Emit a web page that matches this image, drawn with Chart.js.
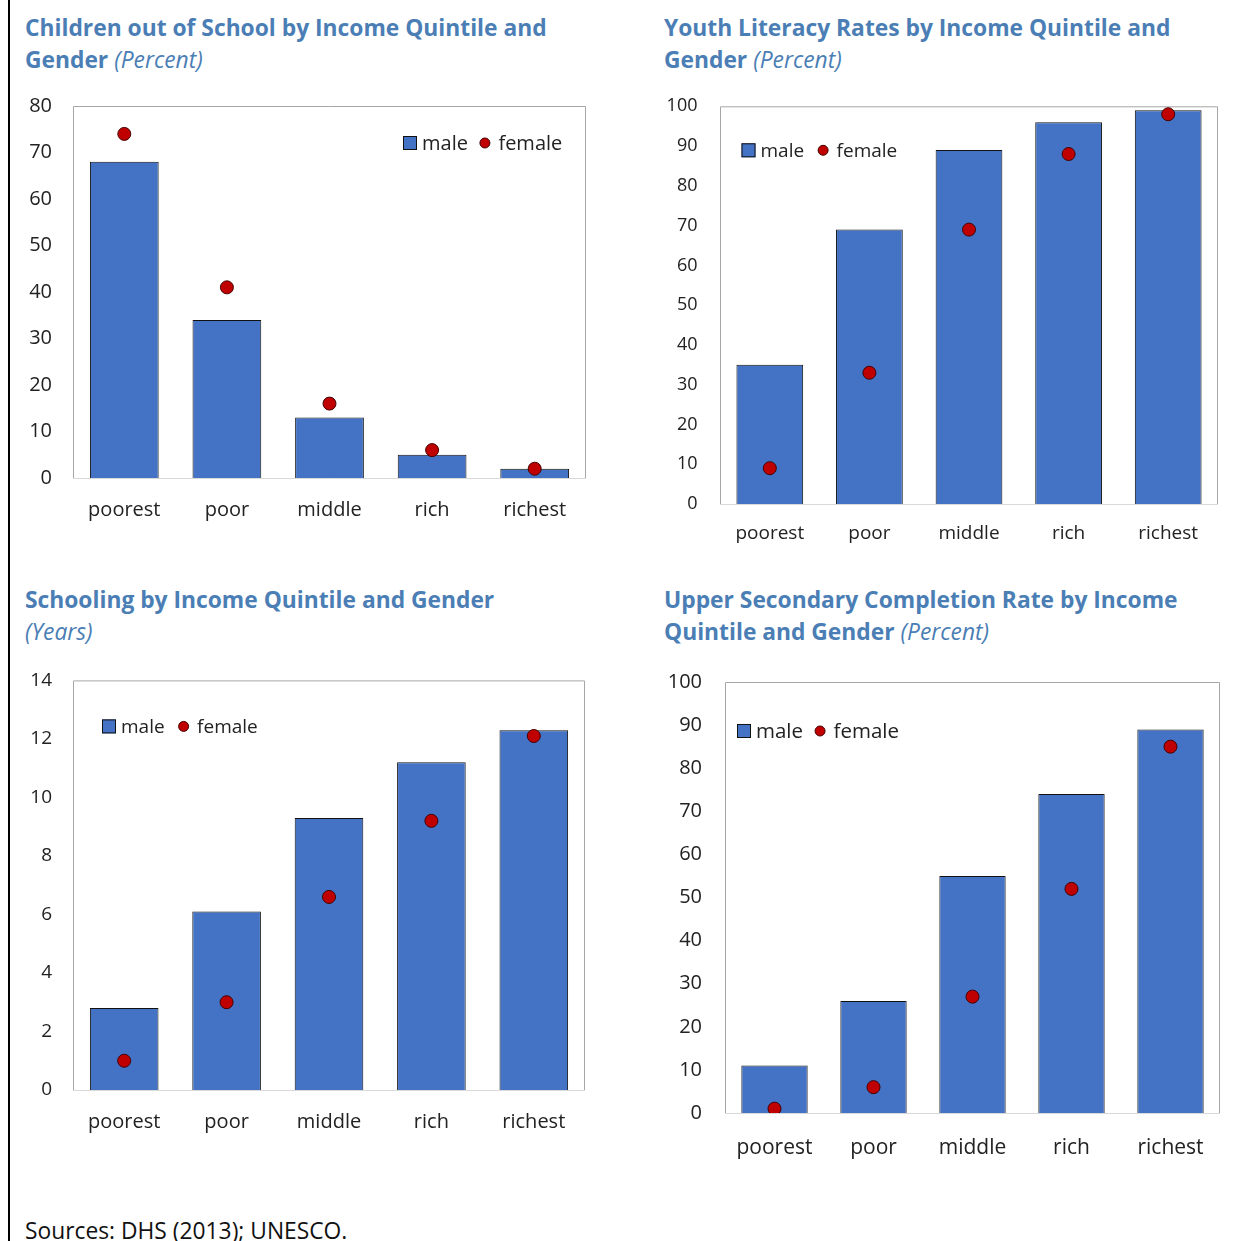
<!DOCTYPE html>
<html>
<head>
<meta charset="utf-8">
<script src="https://cdn.jsdelivr.net/npm/chart.js@4.4.1/dist/chart.umd.min.js"></script>
<style>
  html, body { margin: 0; padding: 0; background: #fff; }
  body { width: 1244px; height: 1241px; position: relative; overflow: hidden; font-family: 'Open Sans', sans-serif; }
  .frame-line { position: absolute; left: 8px; top: 0; width: 2px; height: 1241px; background: #000; }
  .title { position: absolute; font-size: 22.8px; font-weight: 700; line-height: 32px; color: #4A7EB5; white-space: nowrap; }
  .title i { font-weight: 400; }
  canvas { position: absolute; }
  .sources { position: absolute; left: 25px; top: 1216px; font-size: 22.8px; line-height: 30px; color: #111; white-space: nowrap; }
</style>
</head>
<body>
<div class="frame-line"></div>

<div class="title" style="left:25px; top:12px;">Children out of School by Income Quintile and<br>Gender <i>(Percent)</i></div>
<div class="title" style="left:664px; top:12px;">Youth Literacy Rates by Income Quintile and<br>Gender <i>(Percent)</i></div>
<div class="title" style="left:25px; top:584px;">Schooling by Income Quintile and Gender<br><i>(Years)</i></div>
<div class="title" style="left:664px; top:584px;">Upper Secondary Completion Rate by Income<br>Quintile and Gender <i>(Percent)</i></div>

<canvas id="outOfSchool"></canvas>
<canvas id="literacy"></canvas>
<canvas id="schooling"></canvas>
<canvas id="completion"></canvas>

<div class="sources">Sources: DHS (2013); UNESCO.</div>

<script>
// ===== DATA =====
const quintiles = ['poorest', 'poor', 'middle', 'rich', 'richest'];

const outOfSchoolMale = [68, 34, 13, 5, 2];
const outOfSchoolFemale = [74, 41, 16, 6, 2];
const outOfSchoolTicks = [0, 10, 20, 30, 40, 50, 60, 70, 80];

const literacyMale = [35, 69, 89, 96, 99];
const literacyFemale = [9, 33, 69, 88, 98];
const literacyTicks = [0, 10, 20, 30, 40, 50, 60, 70, 80, 90, 100];

const schoolingMale = [2.8, 6.1, 9.3, 11.2, 12.3];
const schoolingFemale = [1.0, 3.0, 6.6, 9.2, 12.1];
const schoolingTicks = [0, 2, 4, 6, 8, 10, 12, 14];

const completionMale = [11, 26, 55, 74, 89];
const completionFemale = [1, 6, 27, 52, 85];
const completionTicks = [0, 10, 20, 30, 40, 50, 60, 70, 80, 90, 100];

// ===== STYLE =====
const BAR_BLUE = '#4472C4';
const DOT_RED = '#C00000';
const TEXT = '#222';

Chart.defaults.font.family = "'Open Sans', sans-serif";
Chart.defaults.color = TEXT;

// plot box + inline legend
const frameAndLegend = {
    id: 'frameAndLegend',
    beforeDatasetsDraw(chart) {
        const { ctx, chartArea: a } = chart;
        ctx.save();
        ctx.lineWidth = 1;
        ctx.strokeStyle = '#a6a6a6';
        ctx.beginPath();
        ctx.moveTo(a.left + 0.5, a.bottom);
        ctx.lineTo(a.left + 0.5, a.top + 0.5);
        ctx.lineTo(a.right - 0.5, a.top + 0.5);
        ctx.lineTo(a.right - 0.5, a.bottom);
        ctx.stroke();
        ctx.strokeStyle = '#d9d9d9';
        ctx.beginPath();
        ctx.moveTo(a.left, a.bottom + 0.5);
        ctx.lineTo(a.right, a.bottom + 0.5);
        ctx.stroke();
        ctx.restore();
    },
    afterDatasetsDraw(chart, args, opts) {
        const { ctx, chartArea: a } = chart;
        const ds = chart.data.datasets;
        let x = a.left + opts.x;
        const y = a.top + opts.y;
        ctx.save();
        ctx.font = opts.size + "px 'Open Sans', sans-serif";
        ctx.textBaseline = 'middle';
        ctx.fillStyle = BAR_BLUE;
        ctx.fillRect(x, y - 7, 14, 14);
        ctx.strokeStyle = '#111';
        ctx.lineWidth = 1;
        ctx.strokeRect(x + 0.5, y - 6.5, 13, 13);
        x += 19;
        ctx.fillStyle = TEXT;
        ctx.fillText(ds[0].label, x, y + 1);
        x += ctx.measureText(ds[0].label).width + opts.dotGap;
        ctx.beginPath();
        ctx.arc(x, y, 5, 0, Math.PI * 2);
        ctx.fillStyle = DOT_RED;
        ctx.fill();
        ctx.strokeStyle = '#400';
        ctx.stroke();
        x += 13.5;
        ctx.fillStyle = TEXT;
        ctx.fillText(ds[1].label, x, y + 1);
        ctx.restore();
    }
};

// cfg.area is the wanted plot box in page pixels; the canvas is sized round it
function makeChart(id, male, female, ticks, cfg) {
    const c = document.getElementById(id);
    const a = cfg.area;
    // y scale reserves half a label line + tick padding above the plot
    const padTop = cfg.ySize * 0.6 + cfg.yPad;
    const top = Math.round(a.top - padTop);
    const height = Math.round(a.bottom + cfg.xHeight - top);
    c.width = cfg.width;
    c.height = height;
    c.style.left = cfg.left + 'px';
    c.style.top = top + 'px';

    return new Chart(c, {
        type: 'bar',
        data: {
            labels: quintiles,
            datasets: [{
                label: 'male',
                data: male,
                backgroundColor: BAR_BLUE,
                borderColor: '#111',
                borderWidth: 1,
                barPercentage: 0.67,
                categoryPercentage: 1,
                order: 2
            }, {
                type: 'line',
                label: 'female',
                data: female,
                showLine: false,
                pointRadius: 6.5,
                pointBackgroundColor: DOT_RED,
                pointBorderColor: '#400',
                pointBorderWidth: 1,
                order: 1
            }]
        },
        options: {
            responsive: false,
            maintainAspectRatio: false,
            animation: false,
            devicePixelRatio: 1,
            layout: { padding: { left: 0, top: 0, right: cfg.left + cfg.width - a.right, bottom: 0 } },
            plugins: {
                legend: { display: false },
                tooltip: { enabled: false },
                frameAndLegend: cfg.legend
            },
            scales: {
                x: {
                    grid: { display: false, drawTicks: false },
                    border: { display: false },
                    ticks: { padding: cfg.xPad, font: { size: cfg.xSize }, color: TEXT, maxRotation: 0 },
                    afterFit: s => { s.height = cfg.xHeight; }
                },
                y: {
                    min: ticks[0],
                    max: ticks[ticks.length - 1],
                    grid: { display: false, drawTicks: false },
                    border: { display: false },
                    ticks: { padding: cfg.yPad, font: { size: cfg.ySize }, color: TEXT },
                    afterBuildTicks: s => { s.ticks = ticks.map(v => ({ value: v })); },
                    afterFit: s => { s.width = a.left - cfg.left; }
                }
            }
        },
        plugins: [frameAndLegend]
    });
}

// ===== CHARTS =====
makeChart('outOfSchool', outOfSchoolMale, outOfSchoolFemale, outOfSchoolTicks, {
    left: 0, width: 620,
    area: { left: 73, top: 106, right: 586, bottom: 478 },
    xHeight: 72, yPad: 21, xPad: 20, ySize: 20, xSize: 20,
    legend: { x: 330, y: 37, size: 20, dotGap: 17 }
});

makeChart('literacy', literacyMale, literacyFemale, literacyTicks, {
    left: 620, width: 624,
    area: { left: 720, top: 106, right: 1218, bottom: 504 },
    xHeight: 56, yPad: 22.5, xPad: 18.5, ySize: 18, xSize: 19,
    legend: { x: 21.5, y: 44, size: 19, dotGap: 19 }
});

makeChart('schooling', schoolingMale, schoolingFemale, schoolingTicks, {
    left: 0, width: 620,
    area: { left: 73, top: 680, right: 585, bottom: 1090 },
    xHeight: 70, yPad: 21, xPad: 20, ySize: 19, xSize: 20,
    legend: { x: 29, y: 46, size: 19, dotGap: 19 }
});

makeChart('completion', completionMale, completionFemale, completionTicks, {
    left: 620, width: 624,
    area: { left: 725, top: 682, right: 1220, bottom: 1113 },
    xHeight: 67, yPad: 23, xPad: 22.5, ySize: 20, xSize: 21,
    legend: { x: 12, y: 49, size: 20.5, dotGap: 17 }
});
</script>
</body>
</html>
